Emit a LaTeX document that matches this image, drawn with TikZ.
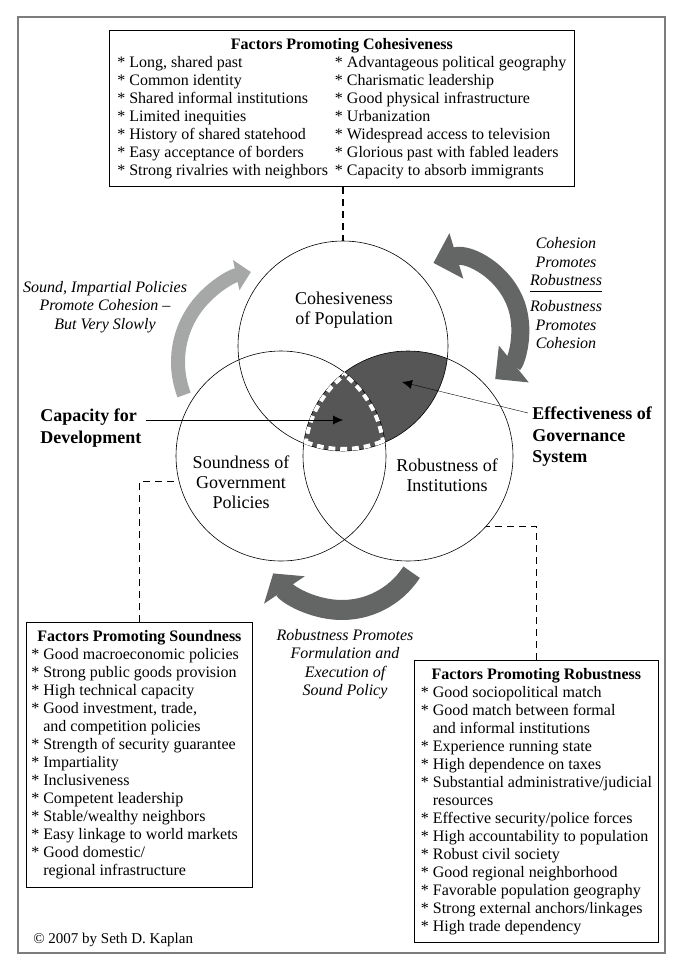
\documentclass[tikz,border=0pt]{standalone}
\usepackage{fontspec}
\setmainfont{Liberation Serif}
\usepackage{tikz}
\usetikzlibrary{arrows.meta}

\definecolor{lensgray}{RGB}{86,86,86}
\definecolor{arrowdark}{RGB}{100,101,101}
\definecolor{arrowlight}{RGB}{166,168,168}
\definecolor{framegray}{RGB}{125,125,125}

\begin{document}
\begin{tikzpicture}[x=1pt,y=1pt,semithick]
  \tikzstyle{circ}=[draw, circle, minimum size=210pt, inner sep=0pt]
  \tikzstyle{fbox}=[draw, thick, inner sep=0pt, anchor=north west, font=\fontsize{16}{18}\selectfont]
  \tikzstyle{ctext}=[align=center, font=\fontsize{18}{20}\selectfont]
  \tikzstyle{note}=[align=center, font=\fontsize{16}{18.5}\selectfont\itshape]
  \tikzstyle{lbl}=[align=left, anchor=west, inner xsep=4pt, inner ysep=0pt, font=\fontsize{18}{21.5}\selectfont\bfseries]
  \tikzstyle{conn}=[line width=1.4pt, dash pattern=on 7pt off 5pt]
  \tikzstyle{ptr}=[-{Latex[length=10pt,width=9pt]}, thin]
  \tikzstyle{lightbow}=[arrowlight, line width=14pt, -{Triangle[width=30pt,length=15pt]}]
  \tikzstyle{darkbow}=[arrowdark, line width=18pt]

  % page and frame
  \fill[white] (0,0) rectangle (684,-972);
  \draw[framegray, line width=2pt] (18,-17) rectangle (665,-953);

  % centres of the three circles
  \coordinate (cohc) at (343,-346);
  \coordinate (sndc) at (281,-456);
  \coordinate (robc) at (408,-456);

  % governance lens
  \begin{scope}
    \clip (cohc) circle (105pt);
    \fill[lensgray] (robc) circle (105pt);
  \end{scope}

  \node[circ] (coh) at (cohc) {};
  \node[circ] (snd) at (sndc) {};
  \node[circ] (rob) at (robc) {};

  % capacity for development: the triple overlap
  \begin{scope}
    \clip (cohc) circle (105pt);
    \clip (robc) circle (105pt);
    \clip (sndc) circle (105pt);
    \foreach \c in {cohc,sndc,robc}{
      \draw[white, line width=8pt, dash pattern=on 7pt off 5pt] (\c) circle (105pt);
    }
  \end{scope}

  \node[ctext] (cohtxt) at (344,-310) {Cohesiveness\\of Population};
  \node[ctext] (sndtxt) at (241,-482) {Soundness of\\Government\\Policies};
  \node[ctext] (robtxt) at (447,-475) {Robustness of\\Institutions};

  % feedback arrows
  \draw[lightbow] ([shift={(201:92pt)}]270,-362) arc[start angle=201, end angle=102, radius=92pt];
  \draw[darkbow, {Triangle[width=46pt,length=24pt]}-{Triangle[width=46pt,length=24pt]}]
    ([shift={(107:67pt)}]453,-327) arc[start angle=107, end angle=-51, radius=67pt];
  \draw[darkbow, line width=20pt, -{Triangle[width=48pt,length=20pt]}]
    ([shift={(-33:83pt)}]342,-527) arc[start angle=-33, end angle=-146, radius=83pt];

  \node[note] (slow) at (105,-307) {Sound, Impartial Policies\\Promote Cohesion --\\But Very Slowly};
  \node[note] (mutual) at (566,-295) {\begin{tabular}{@{}c@{}}Cohesion\\Promotes\\Robustness\\\hline\noalign{\vskip 7pt}Robustness\\Promotes\\Cohesion\end{tabular}};
  \node[note] (policy) at (345,-664) {Robustness Promotes\\Formulation and\\Execution of\\Sound Policy};

  % outcome labels
  \node[lbl] (cap) at (36,-428) {Capacity for\\Development};
  \node[lbl] (eff) at (528,-437) {Effectiveness of\\Governance\\System};
  \coordinate (capt) at (343,-420);
  \coordinate (efft) at (402,-382);
  \draw[ptr] (cap.east |- capt) -- (capt);
  \draw[ptr] (eff.west |- 0,-413) -- (efft);

  % factor boxes
  \node[fbox, minimum width=465pt, minimum height=156pt] (cohbox) at (109,-30) {%
    \begin{tabular}{@{}l@{\hspace{7pt}}l@{}}
      \multicolumn{2}{c}{\textbf{Factors Promoting Cohesiveness}}\\
      {*} Long, shared past & {*} Advantageous political geography\\
      {*} Common identity & {*} Charismatic leadership\\
      {*} Shared informal institutions & {*} Good physical infrastructure\\
      {*} Limited inequities & {*} Urbanization\\
      {*} History of shared statehood & {*} Widespread access to television\\
      {*} Easy acceptance of borders & {*} Glorious past with fabled leaders\\
      {*} Strong rivalries with neighbors & {*} Capacity to absorb immigrants
    \end{tabular}};
  \node[fbox, minimum width=226pt, minimum height=265pt] (sndbox) at (26,-622) {%
    \begin{tabular}{@{}l@{}}
      \multicolumn{1}{c}{\textbf{Factors Promoting Soundness}}\\
      {*} Good macroeconomic policies\\
      {*} Strong public goods provision\\
      {*} High technical capacity\\
      {*} Good investment, trade,\\
      \phantom{* }and competition policies\\
      {*} Strength of security guarantee\\
      {*} Impartiality\\
      {*} Inclusiveness\\
      {*} Competent leadership\\
      {*} Stable/wealthy neighbors\\
      {*} Easy linkage to world markets\\
      {*} Good domestic/\\
      \phantom{* }regional infrastructure
    \end{tabular}};
  \node[fbox, minimum width=244pt, minimum height=282pt] (robbox) at (414,-660) {%
    \begin{tabular}{@{}l@{}}
      \multicolumn{1}{c}{\textbf{Factors Promoting Robustness}}\\
      {*} Good sociopolitical match\\
      {*} Good match between formal\\
      \phantom{* }and informal institutions\\
      {*} Experience running state\\
      {*} High dependence on taxes\\
      {*} Substantial administrative/judicial\\
      \phantom{* }resources\\
      {*} Effective security/police forces\\
      {*} High accountability to population\\
      {*} Robust civil society\\
      {*} Good regional neighborhood\\
      {*} Favorable population geography\\
      {*} Strong external anchors/linkages\\
      {*} High trade dependency
    \end{tabular}};

  % dashed links from boxes to circles
  \draw[conn] (coh.north |- cohbox.south) -- (coh.north);
  \draw[conn] (sndbox.north) |- (snd.194);
  \draw[conn] (robbox.north) |- (rob.-42);

  \node[anchor=west, inner sep=0pt, font=\fontsize{15}{18}\selectfont] (copy) at (33,-940) {© 2007 by Seth D. Kaplan};
\end{tikzpicture}
\end{document}
